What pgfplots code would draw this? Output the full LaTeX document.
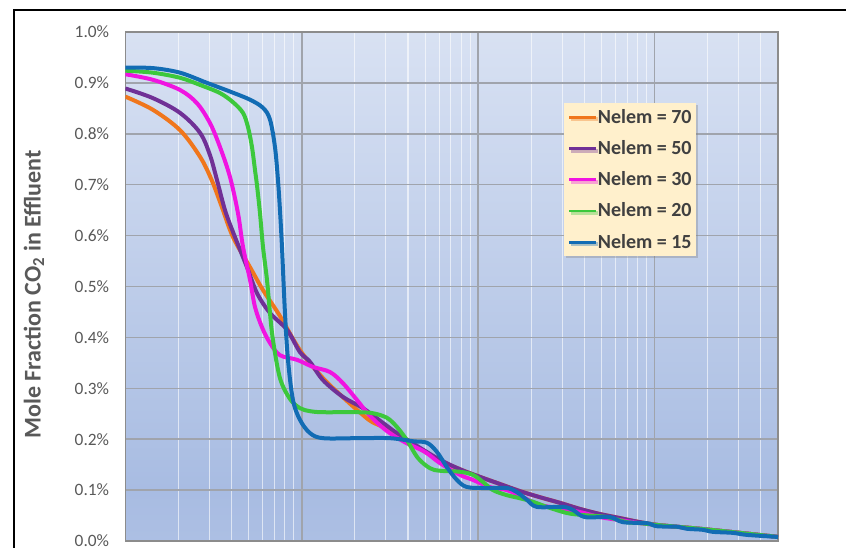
\documentclass[border=0pt]{standalone}
\usepackage{fontspec}
\setmainfont{Carlito}
\usepackage{pgfplots}
\pgfplotsset{compat=1.18}
\usetikzlibrary{shadows}
\definecolor{c70}{RGB}{240,118,28}
\definecolor{c50}{RGB}{112,48,150}
\definecolor{c30}{RGB}{240,20,225}
\definecolor{c20}{RGB}{60,200,60}
\definecolor{c15}{RGB}{18,108,180}
\definecolor{bgtop}{RGB}{243,246,252}
\definecolor{bgmid}{RGB}{168,188,226}
\definecolor{bgbot}{RGB}{194,207,236}
\definecolor{gridgray}{RGB}{160,164,172}
\definecolor{axisgray}{RGB}{140,140,140}
\definecolor{labelgray}{RGB}{89,89,89}
\definecolor{legendfill}{RGB}{255,240,204}
\definecolor{legendtext}{RGB}{64,64,64}
\pgfdeclareverticalshading{bgshade}{100bp}{color(0bp)=(bgbot); color(30bp)=(bgmid); color(100bp)=(bgtop)}
\begin{document}
\begin{tikzpicture}
\useasboundingbox (-94pt,-5.25pt) rectangle (540.5pt,405.75pt);
\begin{axis}[
  scale only axis, width=489.5pt, height=381.75pt,
  xmode=log, xmin=1, xmax=5000, ymin=0, ymax=1.0,
  ytick={0,0.1,0.2,0.3,0.4,0.5,0.6,0.7,0.8,0.9,1.0},
  xticklabel=\empty,
  major tick length=0pt, minor tick length=0pt,
  xmajorgrids, xminorgrids, ymajorgrids,
  major grid style={draw=gridgray, line width=1.1pt},
  minor grid style={draw=white, draw opacity=0.6, line width=0.8pt},
  axis line style={draw=axisgray, line width=0.8pt},
  axis background/.style={shade, shading=bgshade},
  yticklabel={\pgfmathprintnumber[fixed,fixed zerofill,precision=1,assume math mode=true]{\tick}\%},
  yticklabel style={font=\fontsize{13}{15}\selectfont, text=labelgray, anchor=east, inner sep=0pt, xshift=-12pt},
  ylabel={Mole Fraction CO\textsubscript{2} in Effluent},
  ylabel style={at={(axis description cs:-0.1399,0.484)}, anchor=center, font=\fontsize{18}{20}\selectfont\bfseries, text=labelgray},
  legend style={at={(axis description cs:0.6721,0.8605)}, anchor=north west, fill=legendfill, draw=none,
    font=\fontsize{15}{17}\selectfont\bfseries, text=legendtext,
    drop shadow={shadow xshift=1.5pt, shadow yshift=-1.5pt, opacity=0.35},
    nodes={inner xsep=0.5pt, inner ysep=2pt}, row sep=7.4pt, inner xsep=2.5pt, inner ysep=2.5pt},
  legend cell align=left,
  legend image code/.code={\draw[#1, line width=2.2pt] (0pt,0pt) -- (20pt,0pt);},
  every axis plot/.append style={line width=3pt, smooth, tension=0.55},
]
\addplot[c70] coordinates {
(1,0.873) (1.435,0.847) (2.043,0.807) (2.650,0.755) (3.087,0.709) (3.518,0.657)
(4.076,0.597) (5.088,0.538) (6.028,0.493) (7.524,0.442) (9.768,0.375) (13.19,0.320)
(17.80,0.277) (21.64,0.251) (24.99,0.234) (31.60,0.218) (39.45,0.198) (58.34,0.161)
(78.76,0.141) (102.2,0.126) (132.7,0.112) (172.3,0.098) (223.7,0.086) (290.4,0.075)
(376.9,0.063) (489.2,0.053) (635.1,0.045) (824.6,0.037) (1070,0.031) (1804,0.024)
(3039,0.016) (5000,0.008)
};
\addlegendentry{Nelem = 70}

\addplot[c50] coordinates {
(1,0.889) (1.435,0.870) (2.043,0.841) (2.650,0.802) (3.019,0.758) (3.308,0.709)
(3.671,0.650) (4.076,0.607) (4.892,0.538) (5.574,0.487) (6.604,0.448) (8.243,0.415)
(9.768,0.371) (11.13,0.352) (13.19,0.316) (17.12,0.283) (22.22,0.261) (28.85,0.232)
(36.01,0.208) (58.34,0.163)
(78.76,0.141) (102.2,0.126) (132.7,0.112) (172.3,0.098) (223.7,0.086) (290.4,0.075)
(376.9,0.063) (489.2,0.053) (635.1,0.045) (824.6,0.037) (1070,0.031) (1804,0.024)
(3039,0.016) (5000,0.008)
};
\addlegendentry{Nelem = 50}

\addplot[c30] coordinates {
(1,0.917) (1.435,0.906) (2.043,0.886) (2.549,0.860) (3.019,0.821) (3.440,0.774)
(3.920,0.715) (4.350,0.644) (4.644,0.578) (5.088,0.513) (5.430,0.460) (5.950,0.420)
(6.604,0.389) (7.524,0.365) (9.393,0.356) (11.57,0.342) (14.44,0.332) (17.12,0.310)
(20.55,0.277) (24.34,0.246) (30.39,0.216) (38.43,0.194) (49.89,0.175) (60.67,0.153)
(78.76,0.130) (93.32,0.120) (116.5,0.106) (145.4,0.100) (179.2,0.086) (223.7,0.071)
(279.2,0.065) (376.9,0.057) (489.2,0.047) (695.9,0.039) (824.6,0.035)
(1070,0.031) (1804,0.024) (3039,0.016) (5000,0.008)
};
\addlegendentry{Nelem = 30}

\addplot[c20] coordinates {
(1,0.924) (1.435,0.920) (2.043,0.910) (2.650,0.896) (3.440,0.880) (4.076,0.862)
(4.644,0.841) (4.957,0.813) (5.222,0.774) (5.430,0.729) (5.574,0.699) (5.797,0.644)
(6.028,0.578) (6.351,0.513) (6.604,0.448) (6.867,0.395) (7.524,0.320) (8.573,0.279)
(9.768,0.261) (11.13,0.255) (13.19,0.253) (20.55,0.253) (25.32,0.251) (30.39,0.242)
(34.62,0.224) (39.45,0.198) (45.54,0.163) (53.25,0.143) (60.67,0.138) (78.76,0.136)
(93.32,0.130) (106.3,0.116) (121.1,0.100) (145.4,0.090) (172.3,0.084) (204.2,0.077)
(245.0,0.067) (318.1,0.055) (391.9,0.051) (536.0,0.047) (695.9,0.037) (824.6,0.035)
(1070,0.031) (1804,0.024) (3039,0.016) (5000,0.008)
};
\addlegendentry{Nelem = 20}

\addplot[c15] coordinates {
(1,0.930) (1.435,0.929) (2.043,0.920) (2.904,0.900) (3.920,0.883) (5.088,0.867)
(6.028,0.851) (6.604,0.828) (7.049,0.774) (7.331,0.709) (7.524,0.650) (7.723,0.578)
(8.031,0.448) (8.352,0.356) (8.915,0.277) (9.768,0.238) (11.13,0.212) (13.19,0.202)
(20.55,0.202) (31.60,0.202) (42.66,0.196) (51.20,0.193) (58.34,0.175) (66.48,0.145)
(75.72,0.120) (86.30,0.106) (112.0,0.104) (145.4,0.104) (165.7,0.096) (188.7,0.081)
(215.1,0.067) (302.0,0.067) (344.0,0.061) (402.2,0.047) (557.4,0.047) (660.4,0.037)
(903.3,0.035) (1029,0.029) (1336,0.028) (1522,0.024) (1876,0.022) (2137,0.018)
(2774,0.016) (3330,0.012) (5000,0.008)
};
\addlegendentry{Nelem = 15}
\end{axis}
\draw[black, line width=1.5pt] (-83.5pt,-6pt) -- (-83.5pt,398.25pt) -- (541pt,398.25pt);
\end{tikzpicture}
\end{document}
